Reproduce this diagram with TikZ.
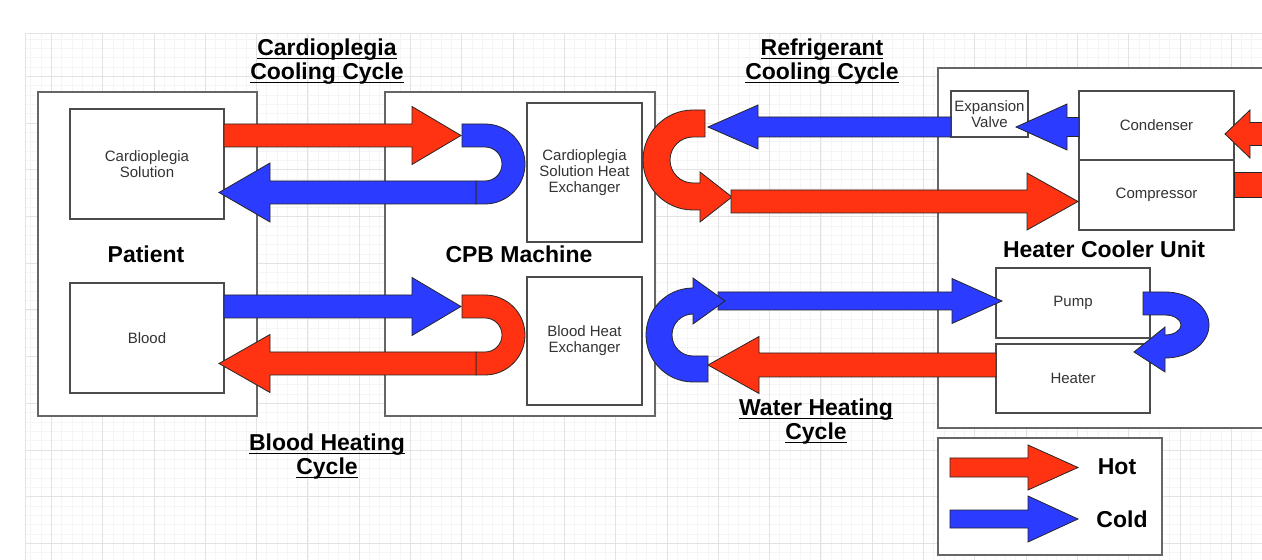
\documentclass[tikz,border=0pt]{standalone}
\usepackage{fontspec}
\setmainfont{Liberation Sans}

\definecolor{hotred}{RGB}{255,51,17}
\definecolor{coldblue}{RGB}{43,59,255}

\newcommand{\ulword}[1]{\leavevmode\setbox0\hbox{#1}\rlap{\rule[-1.6pt]{\wd0}{0.7pt}}\box0}
% fat horizontal arrow: style, x start, x head base, x tip, y centre, half shaft, half head
\newcommand{\flowarrow}[7]{\draw[#1] (#2,#5-#6) -- (#3,#5-#6) -- (#3,#5-#7) -- (#4,#5) -- (#3,#5+#7) -- (#3,#5+#6) -- (#2,#5+#6) -- cycle;}

\begin{document}
\begin{tikzpicture} [x=0.5pt, y=-0.5pt, font=\fontsize{7.5}{8}\selectfont,
                hot/.style={fill=hotred, draw=black!85, line width=0.4pt},
                cold/.style={fill=coldblue, draw=black!85, line width=0.4pt},
                box/.style={draw=black!70, line width=0.7pt, fill=white, inner sep=0pt, outer sep=0pt, align=center, text=black!80},
                outerbox/.style={draw=black!60, line width=0.8pt, fill=white, inner sep=0pt, outer sep=0pt},
                heading/.style={font=\fontsize{11.5}{12}\selectfont\bfseries, align=center}]
                \tikzset{gridminor/.style={draw=black!4, line width=0.3pt}, gridmajor/.style={draw=black!11, line width=0.4pt}}
                \useasboundingbox (0,0) rectangle (1262,560);
                \clip (0,0) rectangle (1262,560);
                % paper grid
                \foreach \gx in {30.78,41.04,...,1262} \draw[gridminor] (\gx,33) -- (\gx,560);
                \foreach \gy in {39.04,48.38,...,560} \draw[gridminor] (25,\gy) -- (1262,\gy);
                \foreach \gx in {51.3,102.6,...,1262} \draw[gridmajor] (\gx,33) -- (\gx,560);
                \foreach \gy in {76.4,123.1,...,560} \draw[gridmajor] (25,\gy) -- (1262,\gy);
                \draw[gridmajor] (25,560) -- (25,33) -- (1262,33);

                % outer units
                \node[outerbox, minimum width=109.5pt, minimum height=162pt] (patient) at (147.5,254) {};
                \node[outerbox, minimum width=135pt, minimum height=162pt] (cpb) at (520,254) {};
                \node[outerbox, minimum width=181pt, minimum height=180pt] (hcu) at (1119,248) {};
                \node[outerbox, minimum width=112pt, minimum height=58.5pt] (legend) at (1050,496.5) {};

                % inner parts
                \node[box, minimum width=77pt, minimum height=55pt] (cardsol) at (147,164) {Cardioplegia\\Solution};
                \node[box, minimum width=77pt, minimum height=55pt] (blood) at (147,338) {Blood};
                \node[box, minimum width=57.5pt, minimum height=69.5pt] (cshx) at (584.5,172.5) {Cardioplegia\\Solution Heat\\Exchanger};
                \node[box, minimum width=57.5pt, minimum height=64pt] (bhx) at (584.5,341) {Blood Heat\\Exchanger};
                \node[box, minimum width=38.5pt, minimum height=23pt] (expv) at (989.5,114) {Expansion\\Valve};
                \node[box, minimum width=77.5pt, minimum height=34.5pt] (cond) at (1156.5,125.5) {Condenser};
                \node[box, minimum width=77.5pt, minimum height=35pt] (comp) at (1156.5,195) {Compressor};
                \node[box, minimum width=77pt, minimum height=35pt] (pump) at (1073,303) {Pump};
                \node[box, minimum width=77pt, minimum height=34.5pt] (heat) at (1073,378.5) {Heater};

                % cardioplegia cooling cycle
                \flowarrow{hot}{224}{412}{461}{135.5}{11.5}{29}
                \draw[cold] (462,124) -- (485,124) arc[start angle=-90, end angle=90, radius=40] -- (476,204) -- (476,181) -- (485,181) arc[start angle=90, end angle=-90, radius=17] -- (462,147) -- cycle;
                \flowarrow{cold}{476}{270}{219}{192.5}{11.5}{29.5}

                % blood heating cycle
                \flowarrow{cold}{224}{412}{461}{306.5}{11.5}{29}
                \draw[hot] (462,295) -- (485,295) arc[start angle=-90, end angle=90, radius=40] -- (476,375) -- (476,352) -- (485,352) arc[start angle=90, end angle=-90, radius=17] -- (462,318) -- cycle;
                \flowarrow{hot}{476}{270}{219}{363.5}{11.5}{29}

                % refrigerant cooling cycle
                \flowarrow{cold}{951}{758}{708}{127}{10}{22}
                \flowarrow{cold}{1079}{1067}{1016}{127}{9.5}{23}
                \draw[hot] (705,110) -- (693,110) arc[start angle=-90, end angle=-270, radius=50] -- (700,210) -- (700,222) -- (732,197) -- (700,172) -- (700,183) -- (693,183) arc[start angle=-270, end angle=-90, radius=23] -- (705,137) -- cycle;
                \flowarrow{hot}{731}{1027}{1078}{201.5}{11.5}{28.5}
                \flowarrow{hot}{1300}{1250}{1225}{134}{11.5}{24}
                \draw[hot] (1234,172) rectangle (1300,197);

                % water heating cycle
                \flowarrow{cold}{718}{952}{1002}{301}{9}{22.5}
                \draw[cold] (708,382) -- (693,382) arc[start angle=90, end angle=270, radius=47] -- (693,278) -- (725,301) -- (693,324) -- (693,314) arc[start angle=270, end angle=90, radius=21] -- (708,356) -- cycle;
                \flowarrow{hot}{996}{759}{708}{365}{12}{28.5}
                \draw[cold] (1143,292) -- (1165,292) arc[start angle=-90, end angle=90, x radius=44, y radius=33] -- (1165,372) -- (1134,352) -- (1165,327) -- (1165,335) arc[start angle=90, end angle=-90, x radius=16, y radius=10] -- (1143,315) -- cycle;

                % legend
                \flowarrow{hot}{950}{1028}{1078}{467.5}{9.5}{22.5}
                \flowarrow{cold}{950}{1028}{1078}{519}{9}{23}
                \node[heading] (hotlbl) at (1117,467) {Hot};
                \node[heading] (coldlbl) at (1122,519) {Cold};

                % labels
                \node[heading] (patientlbl) at (146,254) {Patient};
                \node[heading] (cpblbl) at (519,254) {CPB Machine};
                \node[heading] (hculbl) at (1104,249) {Heater Cooler Unit};
                \node[heading] (cardtitle) at (327,62) {\ulword{Cardioplegia}\\\ulword{Cooling Cycle}};
                \node[heading] (reftitle) at (822,62) {\ulword{Refrigerant}\\\ulword{Cooling Cycle}};
                \node[heading] (bloodtitle) at (327,457) {\ulword{Blood Heating}\\\ulword{Cycle}};
                \node[heading] (watertitle) at (816,422) {\ulword{Water Heating}\\\ulword{Cycle}};
            \end{tikzpicture}
\end{document}
